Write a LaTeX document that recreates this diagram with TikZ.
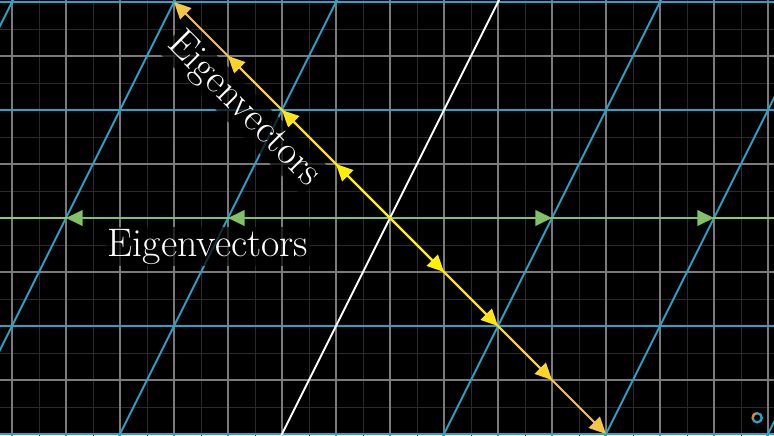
\documentclass[tikz,border=0pt]{standalone}
\usepackage{tikz}
\usetikzlibrary{arrows.meta}
\definecolor{gridgrey}{HTML}{7A7A7A}
\definecolor{minorgrey}{HTML}{2A2A2A}
\definecolor{tealblue}{HTML}{29A3C9}
\definecolor{axisgreen}{HTML}{9CC94C}
\definecolor{eigengreen}{HTML}{83C167}
\definecolor{yellowA}{HTML}{FFF200}
\definecolor{yellowB}{HTML}{FFE414}
\definecolor{yellowC}{HTML}{FDD625}
\definecolor{yellowD}{HTML}{F5C543}
\definecolor{logoorange}{HTML}{D9823B}

\begin{document}
\begin{tikzpicture}[
		eigvec/.style={line width=1.1pt, -{Triangle[length=3.1mm, width=2.9mm]}},
		tline/.style={tealblue, line width=1pt},
		eiglabel/.style={text=white, fill=black, fill opacity=0.7, text opacity=1, inner sep=1pt, font=\fontsize{21}{25}\selectfont}
	]
		\def\screen{(-7.222,-4.019) rectangle (7.111,4.037)}
		\fill[black] \screen;
		\useasboundingbox \screen;
		\clip \screen;
		
		% fixed background grid
		\draw[minorgrey, line width=0.5pt, step=0.5] (-8,-5) grid (8,5);
		\draw[gridgrey, line width=0.6pt, step=1] (-8,-5) grid (8,5);
		
		% grid after the map (3,1;0,2)
		\foreach \y in {-4,-2,2,4}
			\draw[tline] (-8,\y) -- (8,\y);
		\foreach \k in {-3,-2,-1,1,2,3}
			\draw[tline] (3*\k-2.5,-5) -- (3*\k+2.5,5);
		\draw[white, line width=1pt] (-2.5,-5) -- (2.5,5);
		
		\coordinate (O) at (0,0);
		\draw[axisgreen, line width=1.1pt] (-8,0) -- (8,0);
		
		% eigenvectors on the x-axis
		\foreach \x in {6,-6,3,-3} {
			\coordinate (e\x) at (\x,0);
			\draw[eigvec, eigengreen] (O) -- (e\x);
		}
		
		% eigenvectors on the diagonal
		\foreach \k/\c in {4/yellowD, 3/yellowC, 2/yellowB, 1/yellowA} {
			\coordinate (d\k) at (\k,-\k);
			\coordinate (u\k) at (-\k,\k);
			\draw[eigvec, \c] (O) -- (d\k);
			\draw[eigvec, \c] (O) -- (u\k);
		}
		
		\node[eiglabel] (hlabel) at (-3.37,-0.53) {Eigenvectors};
		\node[eiglabel, rotate=-45] (dlabel) at (-2.71,2.0) {Eigenvectors};
		
		% logo
		\draw[tealblue, line width=1.2pt] (6.8,-3.7) circle (0.085);
		\draw[logoorange, line width=1.2pt] (6.8,-3.7) ++(100:0.085) arc (100:200:0.085);
	\end{tikzpicture}
\end{document}
